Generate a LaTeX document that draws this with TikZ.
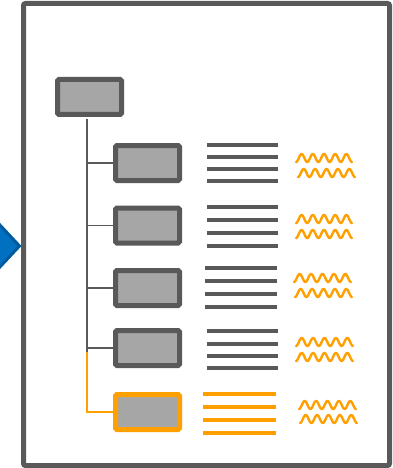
\documentclass[tikz,border=0pt]{standalone}
\begin{document}
\begin{tikzpicture}[x=1pt,y=-1pt,
  frame/.style={draw=dgray,line width=5pt,rounded corners=2pt},
  boxnode/.style={draw=dgray,fill=lgray,line width=5pt,rounded corners=1.5pt,minimum width=64pt,minimum height=35pt,inner sep=0pt},
  hlbox/.style={boxnode,draw=orng},
  conn/.style={draw=dgray,line width=1.6pt},
  hlconn/.style={draw=orng,line width=1.6pt},
  txtline/.style={draw=dgray,line width=4pt},
  hltxt/.style={draw=orng,line width=4pt},
  wave/.style={draw=orng,line width=2.4pt,line cap=round,line join=round}]
\definecolor{dgray}{HTML}{595959}
\definecolor{lgray}{HTML}{A6A6A6}
\definecolor{orng}{HTML}{FFA000}
\definecolor{blu}{HTML}{0070C0}
\definecolor{dblu}{HTML}{005A9E}
\useasboundingbox (0,0) rectangle (393,468);
% blue arrow at left
\fill[blu,draw=dblu,line width=3pt,line join=miter] (-30,223) -- (-2,223) -- (19.5,246) -- (-2,269) -- (-30,269) -- cycle;
% frame
\draw[frame] (23.5,3.5) rectangle (389.5,465.5);
% boxes
\node[boxnode] (top) at (89.5,97) {};
\node[boxnode] (b1) at (147.5,163) {};
\node[boxnode] (b2) at (147.5,225.5) {};
\node[boxnode] (b3) at (147.5,288) {};
\node[boxnode] (b4) at (147.5,348) {};
\node[hlbox] (b5) at (147.5,412) {};
% connectors
\coordinate (ta) at (87,119.5);
\coordinate (tb) at (87,352);
\coordinate (tc) at (87,412);
\draw[conn] (ta) -- (tb);
\draw[conn] (b1.west -| ta) -- (b1.west);
\draw[conn] (b2.west -| ta) -- (b2.west);
\draw[conn] (b3.west -| ta) -- (b3.west);
\draw[conn] (b4.west -| ta) -- (b4.west);
\draw[hlconn] (tb) -- (tc) -- (b5.west);
% text lines
\foreach \y in {145,157,169,181,207,220,233,246} \draw[txtline] (207,\y) -- (278,\y);
\foreach \y in {268,281,294,307} \draw[txtline] (205,\y) -- (277,\y);
\foreach \y in {331,344,356,368} \draw[txtline] (207,\y) -- (278,\y);
\foreach \y in {394,407,420,433} \draw[hltxt] (203,\y) -- (276,\y);
% waves
\foreach \xs/\xe/\yc in {296/352/158, 298/355/173, 296/352/219, 296/352/234, 294/351/278, 295/352/293, 296/353/342, 296/353/357, 299/356/405, 300/357/419}
  \draw[wave] plot[domain=0:1,samples=120] ({\xs+(\xe-\xs)*\x},{\yc+4*cos(1800*\x)});
\end{tikzpicture}
\end{document}
